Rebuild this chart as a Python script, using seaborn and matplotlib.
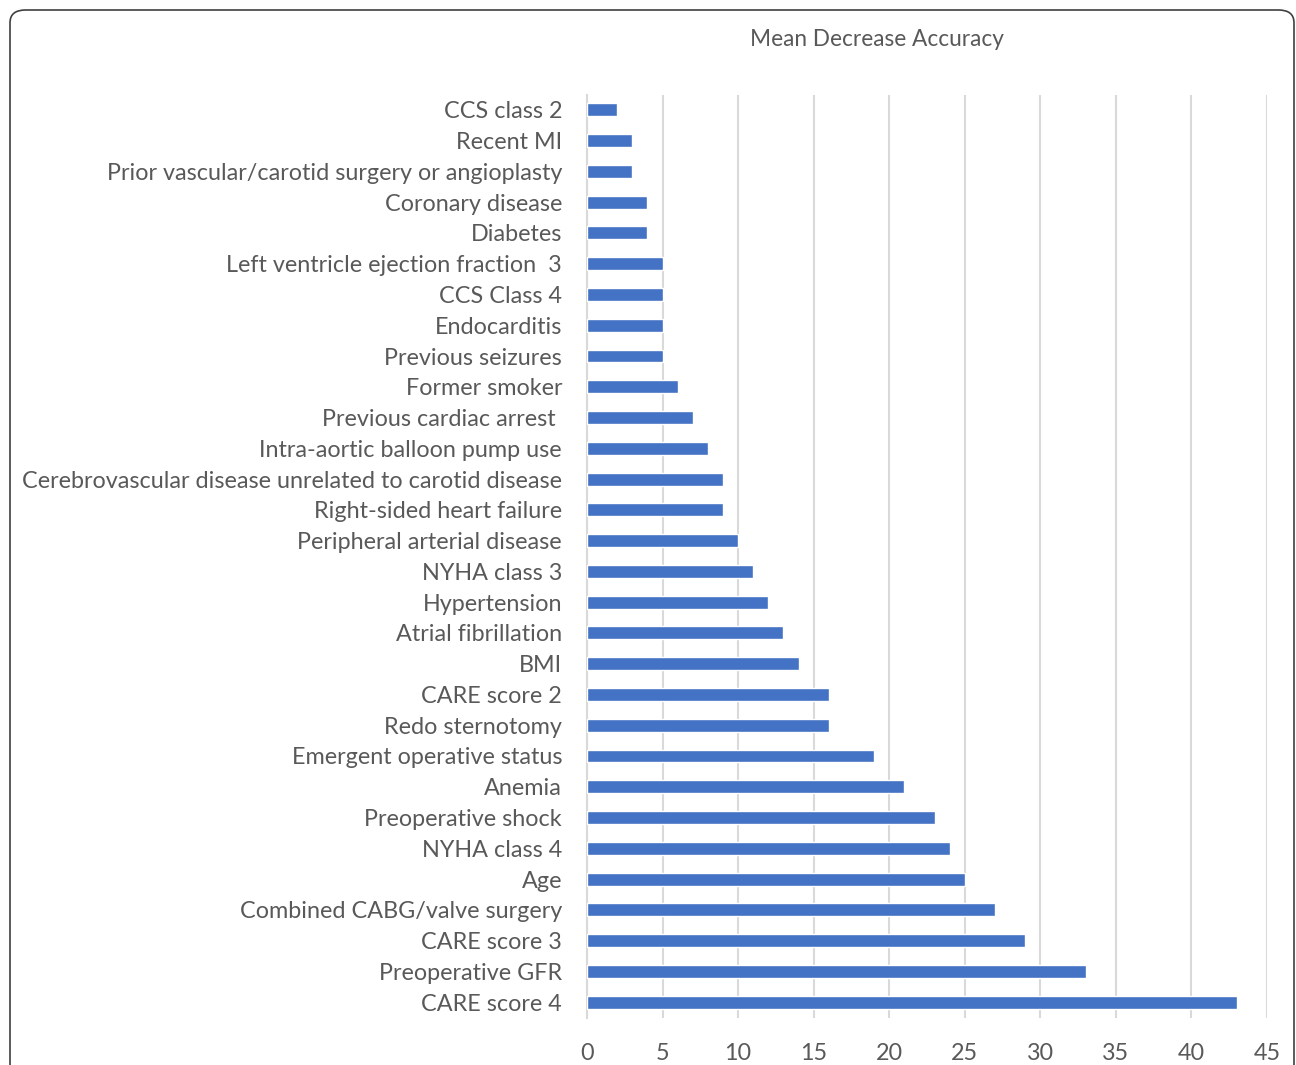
import numpy as np
import pandas as pd
import seaborn as sns
import matplotlib.pyplot as plt
from matplotlib.patches import FancyBboxPatch

# features from top to bottom, as in the picture
features = [
    "CCS class 2", "Recent MI", "Prior vascular/carotid surgery or angioplasty",
    "Coronary disease", "Diabetes", "Left ventricle ejection fraction  3",
    "CCS Class 4", "Endocarditis", "Previous seizures", "Former smoker",
    "Previous cardiac arrest ", "Intra-aortic balloon pump use",
    "Cerebrovascular disease unrelated to carotid disease",
    "Right-sided heart failure", "Peripheral arterial disease", "NYHA class 3",
    "Hypertension", "Atrial fibrillation", "BMI", "CARE score 2",
    "Redo sternotomy", "Emergent operative status", "Anemia",
    "Preoperative shock", "NYHA class 4", "Age", "Combined CABG/valve surgery",
    "CARE score 3", "Preoperative GFR", "CARE score 4",
]
mda = [2, 3, 3, 4, 4, 5, 5, 5, 5, 6, 7, 8, 9, 9, 10, 11, 12, 13, 14, 16,
       16, 19, 21, 23, 24, 25, 27, 29, 33, 43]
x_ticks = [0, 5, 10, 15, 20, 25, 30, 35, 40, 45]
title = "Mean Decrease Accuracy"

df = pd.DataFrame({"feature": features, "mda": mda})

sns.set_style("white")
plt.rcParams['font.family'] = ['Lato', 'DejaVu Sans']
text_col = "#595959"

fig = plt.figure(figsize=(12.96, 10.65), dpi=100)
ax = fig.add_axes([587/1296, 1 - 1017.5/1065, 680/1296, 923/1065])

sns.barplot(data=df, x="mda", y="feature", order=features, color="#4472C4",
            width=0.42, saturation=1, ax=ax, zorder=3)

ax.set_xlim(0, 45)
ax.set_xticks(x_ticks)
ax.grid(axis="x", color="#d9d9d9", linewidth=1.5, zorder=0)
ax.grid(axis="y", visible=False)
for s in ["top", "right", "bottom"]:
    ax.spines[s].set_visible(False)
ax.spines["left"].set_color("#d9d9d9")
ax.spines["left"].set_linewidth(1.5)
ax.set_xlabel("")
ax.set_ylabel("")
ax.tick_params(axis="x", length=0, labelsize=16.8, colors=text_col, pad=18)
ax.tick_params(axis="y", length=0, labelsize=16.8, colors=text_col, pad=18)

fig.text(877/1296, 1 - 39/1065, title, ha="center", va="center",
         fontsize=16.3, color=text_col)

# rounded frame around the chart area
frame = FancyBboxPatch((10/1296, -0.05), 1284/1296, 1.05 - 10/1065,
                       boxstyle="round,pad=0,rounding_size=0.012",
                       transform=fig.transFigure, fill=False,
                       edgecolor="#404040", linewidth=1.2, clip_on=False)
fig.patches.append(frame)

fig.savefig("out.png", dpi=100)
